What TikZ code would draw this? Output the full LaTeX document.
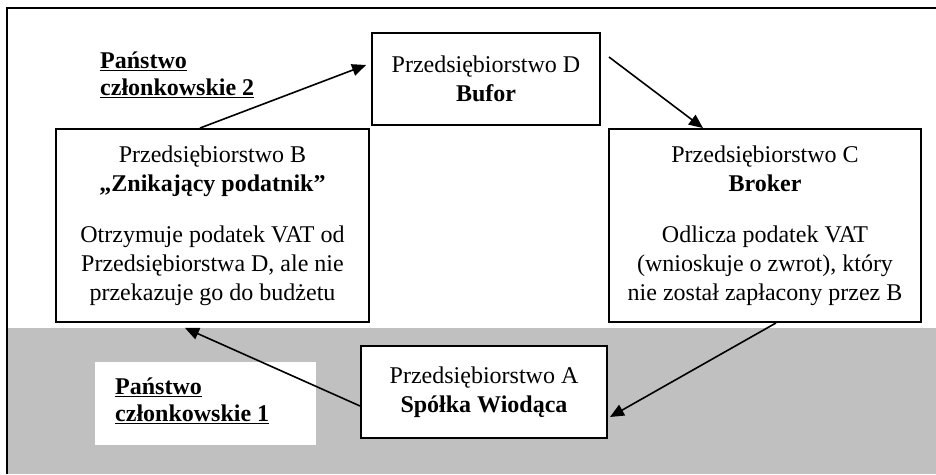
\documentclass[tikz,border=0pt]{standalone}
\usepackage{fontspec}
\setmainfont{Liberation Serif}
\usetikzlibrary{arrows.meta}
\definecolor{zonegray}{RGB}{192,192,192}
\begin{document}
\begin{tikzpicture}[x=1pt,y=-1pt,
  firm/.style={draw=black,line width=1.9pt,fill=white,inner sep=0pt,align=center,
    font=\fontsize{24}{29}\selectfont},
  statelabel/.style={anchor=north west,inner sep=0pt,align=left,
    font=\fontsize{24}{27}\selectfont\bfseries},
  flow/.style={line width=1.6pt,-{Triangle[length=14pt,width=12pt]}}]
\useasboundingbox (0,0) rectangle (936,474);
% lower zone (member state 1)
\fill[zonegray] (8,328) rectangle (936,474);
\fill[white] (95,362) rectangle (316,445);
% frame lines
\draw[line width=1.6pt] (7,474) -- (7,8) -- (936,8);
% firms
\node[firm,minimum width=228pt,minimum height=92pt] (D) at (486,79)
  {Przedsiębiorstwo D\\\textbf{Bufor}};
\node[firm,minimum width=313pt,minimum height=193pt] (B) at (212.5,225.5)
  {Przedsiębiorstwo B\\\textbf{„Znikający podatnik”}\\[22pt]
   Otrzymuje podatek VAT od\\Przedsiębiorstwa D, ale nie\\przekazuje go do budżetu};
\node[firm,minimum width=312pt,minimum height=193pt] (C) at (765,225.5)
  {Przedsiębiorstwo C\\\textbf{Broker}\\[22pt]
   Odlicza podatek VAT\\(wnioskuje o zwrot), który\\nie został zapłacony przez B};
\node[firm,minimum width=246pt,minimum height=92pt] (A) at (484,392)
  {Przedsiębiorstwo A\\\textbf{Spółka Wiodąca}};
% state labels
\node[statelabel] (S2) at (100,52) {\underline{Państwo}\\\underline{członkowskie 2}};
\node[statelabel] (S1) at (115,378) {\underline{Państwo}\\\underline{członkowskie 1}};
% flows
\draw[flow] ([xshift=-12.5pt]B.north) -- ([xshift=-5pt,yshift=14pt]D.west);
\draw[flow] ([xshift=8pt,yshift=22pt]D.east) -- ([xshift=-62pt]C.north);
\draw[flow] ([xshift=11pt]C.south) -- ([xshift=2pt,yshift=-25pt]A.east);
\draw[flow] ([yshift=-14pt]A.west) -- ([xshift=-27.5pt,yshift=-5pt]B.south);
\end{tikzpicture}
\end{document}
